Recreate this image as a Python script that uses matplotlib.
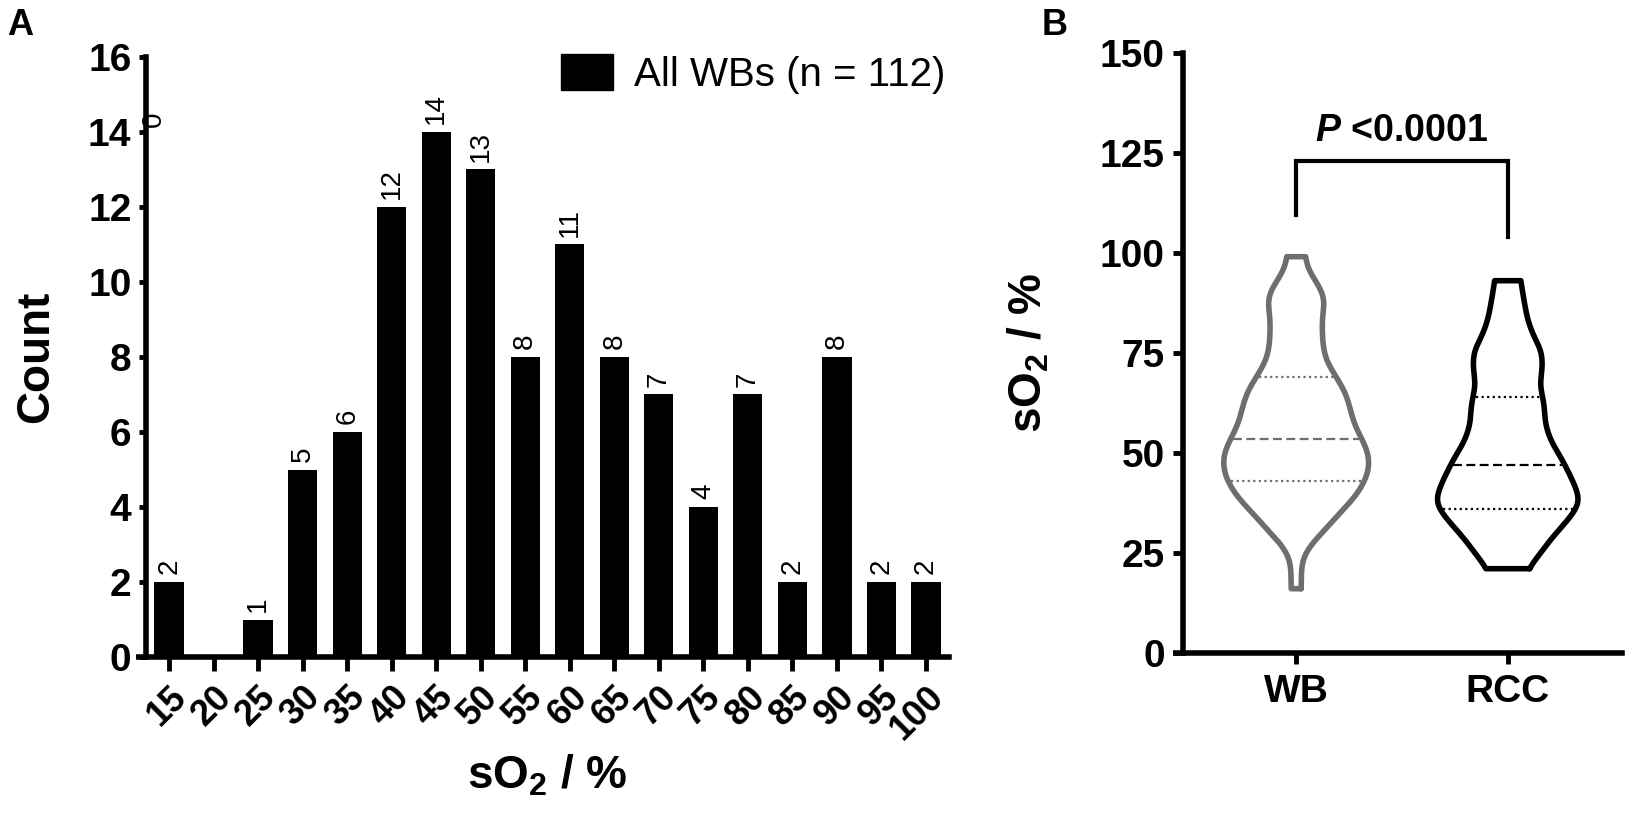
import numpy as np
import matplotlib
matplotlib.use("Agg")
import matplotlib.pyplot as plt
from matplotlib.patches import Patch

plt.rcParams['font.family'] = ['Liberation Sans', 'DejaVu Sans']
plt.rcParams['mathtext.fontset'] = 'custom'
plt.rcParams['mathtext.rm'] = 'Liberation Sans'
plt.rcParams['mathtext.bf'] = 'Liberation Sans:bold'
plt.rcParams['mathtext.it'] = 'Liberation Sans:italic'
plt.rcParams['mathtext.bfit'] = 'Liberation Sans:bold:italic'

# ---------------- data: panel A histogram ----------------
bin_centers = [15, 20, 25, 30, 35, 40, 45, 50, 55, 60, 65, 70, 75, 80, 85, 90, 95, 100]
counts = [2, 0, 1, 5, 6, 12, 14, 13, 8, 11, 8, 7, 4, 7, 2, 8, 2, 2]
legend_label = "All WBs (n = 112)"

# ---------------- data: panel B violin profiles (sO2 value, half-width in category units) ----
groups = ["WB", "RCC"]
wb_y = [16, 20, 23, 25, 28, 31, 34, 37, 40, 43, 46, 49, 52, 55, 58, 61, 64, 67, 70, 73, 76, 80, 84, 88, 91, 94, 97, 99]
wb_hw = [0.024, 0.024, 0.028, 0.043, 0.085, 0.142, 0.189, 0.246, 0.293, 0.326, 0.345, 0.345, 0.326,
         0.293, 0.269, 0.255, 0.241, 0.213, 0.175, 0.142, 0.128, 0.123, 0.123, 0.137, 0.118, 0.076, 0.047, 0.043]
rcc_y = [21, 23, 26, 29, 32, 35, 37.5, 40, 43, 46, 49, 52, 55, 58, 61, 64, 67, 70, 73, 76, 79, 83, 87, 90, 93]
rcc_hw = [0.095, 0.128, 0.170, 0.213, 0.265, 0.312, 0.340, 0.331, 0.307, 0.279, 0.250, 0.213, 0.189,
          0.175, 0.175, 0.165, 0.151, 0.161, 0.165, 0.156, 0.123, 0.095, 0.080, 0.071, 0.061]
wb_quart = [43, 53.5, 69]
rcc_quart = [36, 47, 64]
p_text = r"$\mathbfit{P}$ <0.0001"
bracket_top = 123
bracket_left_end = 109.5
bracket_right_end = 104

BLACK = "#000000"
GRAY = "#6e6e6e"

fig = plt.figure(figsize=(16.29, 8.18), dpi=100)

# ================= Panel A =================
axA = fig.add_axes([146/1629, 1-657/818, (949-146)/1629, 600/818])
axA.bar(bin_centers, counts, width=3.3, color=BLACK, label=legend_label)
for x, c in zip(bin_centers, counts):
    if c > 0:
        axA.text(x, c + 0.2, str(c), rotation=90, ha='center', va='bottom', fontsize=20)
# stray zero label of the empty bin (as in original)
axA.text(13.26, 14.35, "0", rotation=90, ha='center', va='center', fontsize=20)

axA.set_xlim(12.4, 102.6)
axA.set_ylim(0, 16)
axA.set_yticks(range(0, 17, 2))
axA.set_xticks(bin_centers)
axA.set_xticklabels([str(b) for b in bin_centers], rotation=45, ha='right', va='top',
                    rotation_mode='anchor', fontsize=26, fontweight='bold')
axA.tick_params(axis='x', length=10, width=3.5, pad=6)
axA.tick_params(axis='y', length=5, width=3.5, labelsize=28, pad=5.5)
for lab in axA.get_yticklabels():
    lab.set_fontweight('bold')
for s in ['top', 'right']:
    axA.spines[s].set_visible(False)
for s in ['left', 'bottom']:
    axA.spines[s].set_linewidth(4)
axA.plot([-10/803, 0], [0, 0], transform=axA.transAxes, clip_on=False, color=BLACK,
         lw=4, solid_capstyle='butt')
axA.set_ylabel("Count", fontsize=33, fontweight='bold')
axA.yaxis.set_label_coords(-0.11, 0.5)
axA.set_xlabel(r"sO$_\mathbf{2}$ / %", fontsize=33, fontweight='bold')
axA.xaxis.set_label_coords(0.5, -0.16)
leg = axA.legend(handles=[Patch(facecolor=BLACK, edgecolor=BLACK, label=legend_label)],
                 loc='upper right', bbox_to_anchor=(0.995, 1.005), frameon=False,
                 fontsize=29, handlelength=1.3, handleheight=1.0, handletextpad=0.5,
                 borderpad=0, borderaxespad=0)

# ================= Panel B =================
axB = fig.add_axes([1183/1629, 1-652.7/818, (1622-1183)/1629, 600/818])


def smooth_profile(ys, hws, n=400, k=9):
    yy = np.linspace(ys[0], ys[-1], n)
    hh = np.interp(yy, ys, hws)
    pad = k * 2
    hp = np.concatenate([np.full(pad, hh[0]), hh, np.full(pad, hh[-1])])
    x = np.arange(-3 * k, 3 * k + 1)
    ker = np.exp(-0.5 * (x / k) ** 2)
    ker /= ker.sum()
    sm = np.convolve(hp, ker, mode='same')[pad:-pad]
    return yy, sm


for i, (ys, hws, col, quart) in enumerate([(wb_y, wb_hw, GRAY, wb_quart),
                                          (rcc_y, rcc_hw, BLACK, rcc_quart)]):
    yy, hh = smooth_profile(ys, hws)
    px = np.concatenate([i + hh, (i - hh)[::-1], [i + hh[0]]])
    py = np.concatenate([yy, yy[::-1], [yy[0]]])
    axB.plot(px, py, color=col, lw=4, solid_joinstyle='round', solid_capstyle='round')
    for j, q in enumerate(quart):
        w = np.interp(q, yy, hh) - 0.012
        axB.plot([i - w, i + w], [q, q], color=col, lw=1.6,
                 linestyle=(0, (4, 2)) if j == 1 else (0, (1, 1.5)))

# significance bracket
axB.plot([0, 0, 1, 1], [bracket_left_end, bracket_top, bracket_top, bracket_right_end],
         color=BLACK, lw=3, solid_joinstyle='miter')
axB.text(0.5, bracket_top + 5, p_text, ha='center', va='baseline', fontsize=27, fontweight='bold')

axB.set_xlim(-0.535, 1.54)
axB.set_ylim(0, 150)
axB.set_yticks(range(0, 151, 25))
axB.set_xticks([0, 1])
axB.set_xticklabels(groups, fontsize=28, fontweight='bold')
axB.tick_params(axis='x', length=8, width=3.5, pad=7)
axB.tick_params(axis='y', length=7, width=3.5, labelsize=28, pad=6)
for lab in axB.get_yticklabels():
    lab.set_fontweight('bold')
for s in ['top', 'right']:
    axB.spines[s].set_visible(False)
for s in ['left', 'bottom']:
    axB.spines[s].set_linewidth(4)
axB.plot([-10/439, 0], [0, 0], transform=axB.transAxes, clip_on=False, color=BLACK,
         lw=4, solid_capstyle='butt')
axB.set_ylabel(r"sO$_\mathbf{2}$ / %", fontsize=33, fontweight='bold')
axB.yaxis.set_label_coords(-0.3, 0.5)

fig.text(7/1629, 1-8/818, "A", fontsize=26, fontweight='bold', va='top', ha='left')
fig.text(1042/1629, 1-8/818, "B", fontsize=26, fontweight='bold', va='top', ha='left')

fig.savefig("out.png", dpi=100)
